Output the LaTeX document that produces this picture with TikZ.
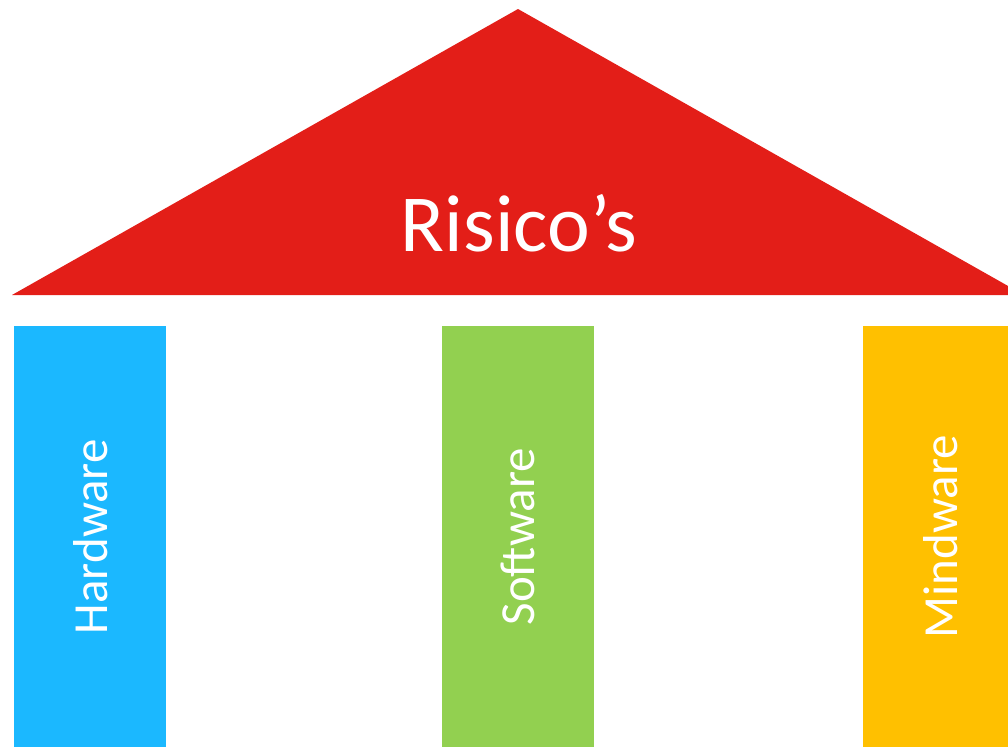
\documentclass[tikz,border=0pt]{standalone}
\usepackage{fontspec}
\setmainfont{Carlito}
\definecolor{roof}{RGB}{227,30,24}
\definecolor{hw}{RGB}{27,184,255}
\definecolor{sw}{RGB}{146,208,80}
\definecolor{mw}{RGB}{255,192,0}
\begin{document}
\begin{tikzpicture}[x=1pt,y=-1pt,
  pillar/.style={anchor=north west, inner sep=0pt, minimum width=152pt, minimum height=421pt},
  pillartext/.style={text=white, font=\fontsize{49}{58}\selectfont, rotate=90}]
\useasboundingbox (0,0) rectangle (1008,747);
\begin{scope}
\clip (0,0) rectangle (1008,747);
\fill[roof] (12,295) coordinate (bl) -- (518,9) coordinate (apex) -- (1024,295) coordinate (br) -- cycle;
\node[pillar, fill=hw] (hwbox) at (14,326) {};
\node[pillar, fill=sw] (swbox) at (442,326) {};
\node[pillar, fill=mw] (mwbox) at (863,326) {};
\end{scope}
\node[text=white, font=\fontsize{81}{94}\selectfont, anchor=base] (roofl) at (519,251) {Risico’s};
\node[pillartext] (hwl) at (hwbox.center) {Hardware};
\node[pillartext] (swl) at (swbox.center) {Software};
\node[pillartext] (mwl) at ([xshift=1pt]mwbox.center) {Mindware};
\end{tikzpicture}
\end{document}
